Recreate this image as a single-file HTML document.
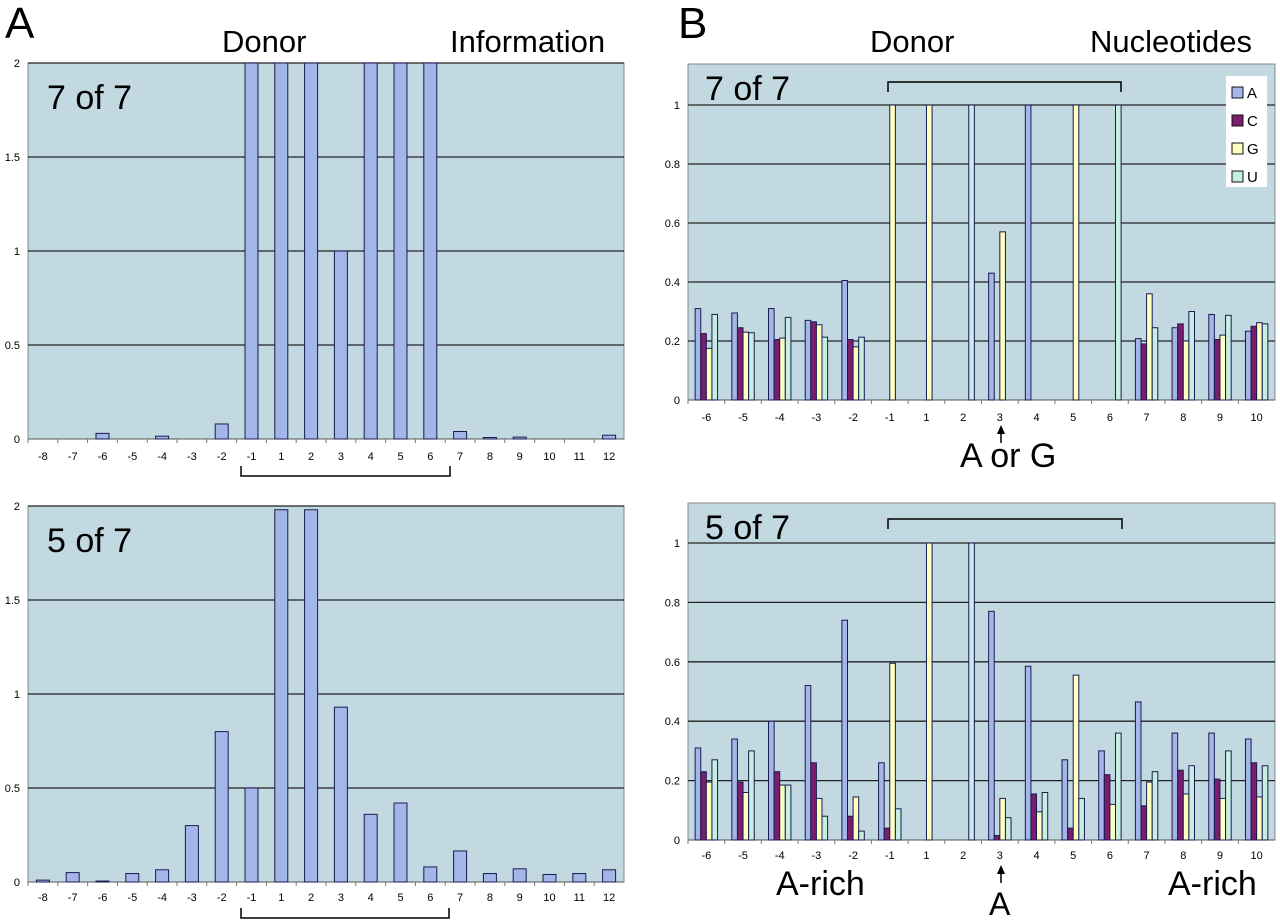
<!DOCTYPE html>
<html><head><meta charset="utf-8">
<style>
body{margin:0;background:#fff;}
svg{display:block;font-family:"Liberation Sans",Arial,sans-serif;}
</style></head>
<body>
<svg id="fig" width="1280" height="924" viewBox="0 0 1280 924" xmlns="http://www.w3.org/2000/svg">
<text x="5" y="38" font-size="44">A</text>
<text x="222" y="52" font-size="31">Donor</text>
<text x="450" y="52" font-size="31">Information</text>
<text x="678" y="38" font-size="44">B</text>
<text x="870" y="52" font-size="31">Donor</text>
<text x="1090" y="52" font-size="31">Nucleotides</text>
<g id="charts"></g>
</svg>
<script>
const catsA = ["-8","-7","-6","-5","-4","-3","-2","-1","1","2","3","4","5","6","7","8","9","10","11","12"];
const infoTop = [0,0,0.03,0,0.015,0,0.08,2,2,2,1,2,2,2,0.04,0.008,0.01,0,0,0.02];
const infoBot = [0.01,0.05,0.005,0.045,0.065,0.3,0.8,0.5,1.98,1.98,0.93,0.36,0.42,0.08,0.165,0.045,0.07,0.04,0.045,0.065];
const ticksA = [0,0.5,1,1.5,2];
const catsB = ["-6","-5","-4","-3","-2","-1","1","2","3","4","5","6","7","8","9","10"];
const nucs = ["A","C","G","U"];
const topA = [.31,.295,.31,.27,.405,0,0,0,.43,1,0,0,.208,.245,.29,.233];
const topC = [.225,.245,.205,.265,.205,0,0,0,0,0,0,0,.19,.258,.205,.25];
const topG = [.175,.23,.21,.255,.18,1,1,0,.57,0,1,0,.36,.2,.22,.262];
const topU = [.29,.228,.28,.213,.213,0,0,1,0,0,0,1,.245,.3,.287,.258];
const botA = [.31,.34,.4,.52,.74,.26,0,0,.77,.585,.27,.3,.465,.36,.36,.34];
const botC = [.23,.195,.23,.26,.08,.04,0,0,.015,.155,.04,.22,.115,.235,.205,.26];
const botG = [.195,.16,.185,.14,.145,.595,1,0,.14,.095,.555,.12,.195,.155,.14,.145];
const botU = [.27,.3,.185,.08,.03,.105,0,1,.075,.16,.14,.36,.23,.25,.3,.25];
const ticksB = [0,0.2,0.4,0.6,0.8,1];
const colors = ["#a3b6e8","#7a1d6c","#ffffbf","#c6efe2"];

const NS="http://www.w3.org/2000/svg";
const root=document.getElementById('charts');
function mk(tag,attrs,parent){const e=document.createElementNS(NS,tag);for(const k in attrs)e.setAttribute(k,attrs[k]);(parent||root).appendChild(e);return e;}

function chart(opt){
  const g=mk('g',{});
  
  
  const {x0,x1,yTop,y0,cats}=opt;
  const ys=v=>y0-(y0-opt.yAt1)*v/opt.unit;
  const bg=mk('rect',{x:x0,y:yTop,width:x1-x0,height:y0-yTop,fill:"#c2d9e2",stroke:"#888","stroke-width":1},g);
  
  
  opt.ticks.forEach(t=>{
    const y=ys(t);
    if(t>0){const l=mk('line',{x1:x0,x2:x1,y1:y,y2:y,stroke:"#222","stroke-width":1.3},g);
      
      }
    const tx=mk('text',{x:x0-8,y:y+4,"font-size":11,"text-anchor":"end"},g);
    tx.textContent=t;
    
    
  });
  mk('line',{x1:x0,x2:x1,y1:y0,y2:y0,stroke:"#555","stroke-width":1},g);
  const cw=(x1-x0)/cats.length;
  cats.forEach((c,i)=>{
    const cx=x0+cw*(i+0.5);
    const tx=mk('text',{x:cx,y:opt.labelY,"font-size":11,"text-anchor":"middle"},g);
    tx.textContent=c;
    
    
    mk('line',{x1:x0+cw*i,x2:x0+cw*i,y1:y0,y2:y0+4,stroke:"#777"},g);
    opt.series.forEach((s,k)=>{
      const v=s[i]; if(v<=0) return;
      const bw=opt.bw, n=opt.series.length;
      const bx=cx-bw*n/2+bw*k;
      const r=mk('rect',{x:bx,y:ys(v),width:bw,height:y0-ys(v),fill:opt.colors[k],stroke:"#1a1a50","stroke-width":1},g);
      
      
    });
  });
  const tl=mk('text',{x:opt.x0+opt.tdx,y:opt.yTop+opt.tdy,"font-size":34},g);
  tl.textContent=opt.title;
  
  
}
function bracket(x1,x2,y,down,name){
  const d=down?`M${x1},${y+10} L${x1},${y} L${x2},${y} L${x2},${y+10}`:`M${x1},${y} L${x1},${y+10} L${x2},${y+10} L${x2},${y}`;
  const p=mk('path',{d:d,fill:"none",stroke:"#000","stroke-width":1.5});
  
  
}
function txt(x,y,s,size,name){const t=mk('text',{x:x,y:y,"font-size":size});t.textContent=s;
  
  }
function arrow(x,y1,y2,name){
  const g=mk('g',{});
  
  
  mk('line',{x1:x,x2:x,y1:y1+6,y2:y2,stroke:"#000","stroke-width":1.5},g);
  mk('path',{d:`M${x-4},${y1+9} L${x},${y1} L${x+4},${y1+9} Z`,fill:"#000"},g);
}

chart({name:'info-chart-7of7',x0:28,x1:624,yTop:63,y0:439,yAt1:63,unit:2,cats:catsA,series:[infoTop],colors:[colors[0]],bw:13,ticks:ticksA,labelY:460,title:'7 of 7',tdx:19,tdy:46});
chart({name:'info-chart-5of7',x0:28,x1:624,yTop:506,y0:882,yAt1:506,unit:2,cats:catsA,series:[infoBot],colors:[colors[0]],bw:13,ticks:ticksA,labelY:901,title:'5 of 7',tdx:19,tdy:46});
chart({name:'nucleotide-chart-7of7',x0:688,x1:1275,yTop:64,y0:400,yAt1:105,unit:1,cats:catsB,series:[topA,topC,topG,topU],colors:colors,bw:5.6,ticks:ticksB,labelY:421,title:'7 of 7',tdx:17,tdy:36});
chart({name:'nucleotide-chart-5of7',x0:688,x1:1275,yTop:503,y0:840,yAt1:543,unit:1,cats:catsB,series:[botA,botC,botG,botU],colors:colors,bw:5.6,ticks:ticksB,labelY:859,title:'5 of 7',tdx:17,tdy:36});

bracket(241,450,466,false,'bracket-a-top');
bracket(241,449,908,false,'bracket-a-bottom');
bracket(888,1121,82,true,'bracket-b-top');
bracket(888,1122,519,true,'bracket-b-bottom');
arrow(1001,425,443,'arrow-b-top');
txt(960,467,'A or G',34,'annotation-a-or-g');
arrow(1001,865,883,'arrow-b-bottom');
txt(989,915,'A',32,'annotation-a');
txt(776,895,'A-rich',34,'annotation-a-rich-left');
txt(1168,895,'A-rich',34,'annotation-a-rich-right');

const lg=mk('g',{});


mk('rect',{x:1226,y:76,width:41,height:111,fill:"#fff"},lg);
nucs.forEach((n,i)=>{
  const y=87+i*28;
  const e=mk('g',{},lg);
  
  
  mk('rect',{x:1232,y:y,width:11,height:11,fill:colors[i],stroke:"#111"},e);
  const t=mk('text',{x:1247,y:y+11,"font-size":15},e);t.textContent=n;
});
</script>
</body></html>
